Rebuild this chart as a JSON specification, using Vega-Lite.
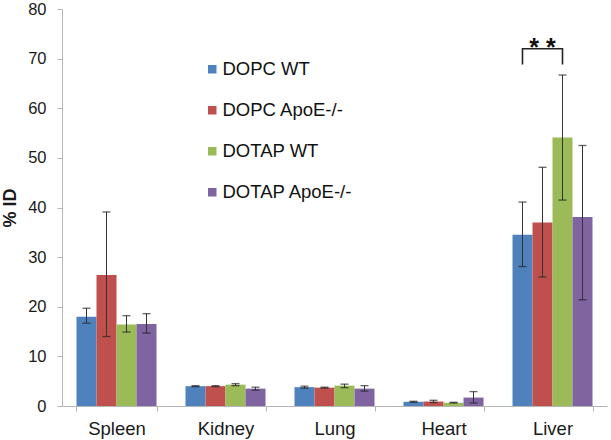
{
  "$schema": "https://vega.github.io/schema/vega-lite/v6.json",
  "width": 545,
  "height": 397,
  "autosize": {"type": "none"},
  "padding": {"left": 62, "top": 9, "right": 4, "bottom": 34},
  "background": "white",
  "config": {
    "view": {"stroke": null},
    "font": "Liberation Sans",
    "axis": {"grid": false, "domainColor": "#b5b5b5", "tickColor": "#b5b5b5", "labelColor": "#1a1a1a", "titleColor": "#1a1a1a"}
  },
  "datasets": {
    "bars": [
      {"organ": "Spleen", "group": "DOPC WT", "value": 18.0, "lo": 16.7, "hi": 19.7},
      {"organ": "Spleen", "group": "DOPC ApoE-/-", "value": 26.4, "lo": 14.0, "hi": 39.1},
      {"organ": "Spleen", "group": "DOTAP WT", "value": 16.4, "lo": 14.9, "hi": 18.2},
      {"organ": "Spleen", "group": "DOTAP ApoE-/-", "value": 16.5, "lo": 14.7, "hi": 18.6},
      {"organ": "Kidney", "group": "DOPC WT", "value": 4.0, "lo": 3.9, "hi": 4.1},
      {"organ": "Kidney", "group": "DOPC ApoE-/-", "value": 4.0, "lo": 3.9, "hi": 4.1},
      {"organ": "Kidney", "group": "DOTAP WT", "value": 4.3, "lo": 4.1, "hi": 4.5},
      {"organ": "Kidney", "group": "DOTAP ApoE-/-", "value": 3.5, "lo": 3.2, "hi": 3.8},
      {"organ": "Lung", "group": "DOPC WT", "value": 3.8, "lo": 3.6, "hi": 4.0},
      {"organ": "Lung", "group": "DOPC ApoE-/-", "value": 3.7, "lo": 3.6, "hi": 3.8},
      {"organ": "Lung", "group": "DOTAP WT", "value": 4.1, "lo": 3.7, "hi": 4.4},
      {"organ": "Lung", "group": "DOTAP ApoE-/-", "value": 3.5, "lo": 3.0, "hi": 4.1},
      {"organ": "Heart", "group": "DOPC WT", "value": 0.85, "lo": 0.75, "hi": 0.95},
      {"organ": "Heart", "group": "DOPC ApoE-/-", "value": 0.9, "lo": 0.7, "hi": 1.15},
      {"organ": "Heart", "group": "DOTAP WT", "value": 0.65, "lo": 0.6, "hi": 0.75},
      {"organ": "Heart", "group": "DOTAP ApoE-/-", "value": 1.7, "lo": 0.6, "hi": 2.9},
      {"organ": "Liver", "group": "DOPC WT", "value": 34.5, "lo": 28.1, "hi": 41.1},
      {"organ": "Liver", "group": "DOPC ApoE-/-", "value": 37.0, "lo": 26.0, "hi": 48.1},
      {"organ": "Liver", "group": "DOTAP WT", "value": 54.1, "lo": 41.5, "hi": 66.7},
      {"organ": "Liver", "group": "DOTAP ApoE-/-", "value": 38.1, "lo": 21.4, "hi": 52.5}
    ],
    "bracket": [
      {"organ": "Liver", "group": "DOPC WT", "value": 68.8, "o": 1},
      {"organ": "Liver", "group": "DOPC WT", "value": 72.0, "o": 2},
      {"organ": "Liver", "group": "DOTAP WT", "value": 72.0, "o": 3},
      {"organ": "Liver", "group": "DOTAP WT", "value": 68.8, "o": 4}
    ],
    "star": [
      {"organ": "Liver", "group": "DOPC ApoE-/-", "value": 72.0, "label": "* *"}
    ]
  },
  "encoding": {
    "x": {
      "field": "organ", "type": "nominal",
      "sort": ["Spleen", "Kidney", "Lung", "Heart", "Liver"],
      "scale": {"paddingInner": 0.266, "paddingOuter": 0.133},
      "axis": {"title": null, "labelAngle": 0, "labelFontSize": 18.5, "labelPadding": 8, "tickBand": "extent", "tickSize": 5, "domainColor": "#b5b5b5"}
    },
    "xOffset": {
      "field": "group", "type": "nominal",
      "sort": ["DOPC WT", "DOPC ApoE-/-", "DOTAP WT", "DOTAP ApoE-/-"],
      "scale": {"paddingInner": 0, "paddingOuter": 0}
    }
  },
  "layer": [
    {
      "data": {"name": "bars"},
      "mark": {"type": "bar"},
      "encoding": {
        "y": {
          "field": "value", "type": "quantitative",
          "scale": {"domain": [0, 80], "nice": false},
          "axis": {"title": "% ID", "titleFontSize": 18, "titleFontWeight": "bold", "titlePadding": 8, "values": [0, 10, 20, 30, 40, 50, 60, 70, 80], "labelFontSize": 16.5, "tickSize": 5, "labelPadding": 11}
        },
        "color": {
          "field": "group", "type": "nominal",
          "sort": ["DOPC WT", "DOPC ApoE-/-", "DOTAP WT", "DOTAP ApoE-/-"],
          "scale": {"domain": ["DOPC WT", "DOPC ApoE-/-", "DOTAP WT", "DOTAP ApoE-/-"], "range": ["#4F81BD", "#C0504D", "#9BBB59", "#8064A2"]},
          "legend": {
            "title": null, "orient": "none", "legendX": 141, "legendY": 51,
            "symbolType": "square", "symbolSize": 72, "symbolStrokeWidth": 0,
            "labelFontSize": 18.5, "labelColor": "#111", "labelOffset": 1, "rowPadding": 22
          }
        }
      }
    },
    {
      "data": {"name": "bars"},
      "mark": {"type": "rule", "color": "#333", "strokeWidth": 1},
      "encoding": {
        "y": {"field": "lo", "type": "quantitative"},
        "y2": {"field": "hi"}
      }
    },
    {
      "data": {"name": "bars"},
      "mark": {"type": "tick", "color": "#222", "thickness": 1.3, "size": 8},
      "encoding": {"y": {"field": "lo", "type": "quantitative"}}
    },
    {
      "data": {"name": "bars"},
      "mark": {"type": "tick", "color": "#222", "thickness": 1.3, "size": 8},
      "encoding": {"y": {"field": "hi", "type": "quantitative"}}
    },
    {
      "data": {"name": "bracket"},
      "mark": {"type": "line", "color": "#222", "strokeWidth": 1.6},
      "encoding": {
        "y": {"field": "value", "type": "quantitative"},
        "order": {"field": "o", "type": "quantitative"}
      }
    },
    {
      "data": {"name": "star"},
      "mark": {"type": "text", "fontSize": 25, "fontWeight": "bold", "color": "#111", "dy": 7, "baseline": "alphabetic"},
      "encoding": {
        "y": {"field": "value", "type": "quantitative"},
        "text": {"field": "label"}
      }
    }
  ]
}
